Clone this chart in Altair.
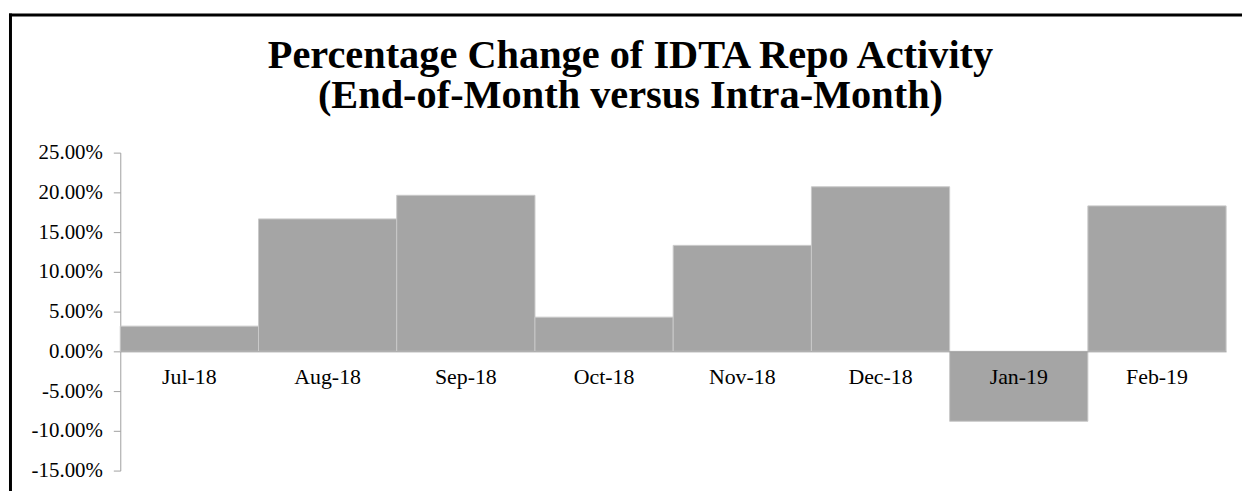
import altair as alt
import pandas as pd

months = ["Jul-18", "Aug-18", "Sep-18", "Oct-18", "Nov-18", "Dec-18", "Jan-19", "Feb-19"]
pct_change = [0.0317, 0.1666, 0.1963, 0.0430, 0.1333, 0.2070, -0.0880, 0.1830]
y_ticks = [-0.15, -0.10, -0.05, 0.0, 0.05, 0.10, 0.15, 0.20, 0.25]
title_lines = ["Percentage Change of IDTA Repo Activity", "(End-of-Month versus Intra-Month)"]

df = pd.DataFrame({"month": months, "value": pct_change})

W, H = 1113, 320
SERIF = "Liberation Serif"

bars = alt.Chart(df).mark_bar(
    fill="#A5A5A5", stroke="#C9C9C9", strokeWidth=1
).encode(
    x=alt.X("month:N", sort=None, title=None,
            scale=alt.Scale(paddingInner=0, paddingOuter=0),
            axis=alt.Axis(orient="bottom", offset=-120, ticks=False, labelAngle=0,
                          labelFont=SERIF, labelFontSize=22, labelColor="#000000",
                          labelPadding=15, domainColor="#A0A0A0", domainWidth=1,
                          zindex=1)),
    y=alt.Y("value:Q", title=None,
            scale=alt.Scale(domain=[-0.15, 0.25], nice=False, zero=False),
            axis=alt.Axis(values=y_ticks, grid=False, tickSize=7, labelPadding=11,
                          labelFont=SERIF, labelFontSize=21, labelColor="#000000",
                          domainColor="#A0A0A0", tickColor="#A0A0A0",
                          labelExpr="replace(format(datum.value, '.2%'), '\u2212', '-')")),
)

frame_df = pd.DataFrame({"k": [0]})
left_border = alt.Chart(frame_df).mark_rule(color="#000000", strokeWidth=3).encode(
    x=alt.value(-110.5), y=alt.value(-140), y2=alt.value(H + 40)
)
top_border = alt.Chart(frame_df).mark_rule(color="#000000", strokeWidth=3).encode(
    y=alt.value(-138.5), x=alt.value(-112), x2=alt.value(W + 40)
)

chart = alt.layer(bars, left_border, top_border).properties(
    width=W, height=H,
    autosize=alt.AutoSizeParams(type="none"),
    padding={"left": 113, "top": 144, "right": 16, "bottom": 19},
    title=alt.TitleParams(
        text=title_lines, font=SERIF, fontSize=40.6, fontWeight="bold", color="#000000",
        anchor="middle", dx=-43, lineHeight=40, offset=-105,
    ),
).configure_view(stroke=None)

chart.save("out.html", embed_options={"renderer": "svg", "actions": False})
